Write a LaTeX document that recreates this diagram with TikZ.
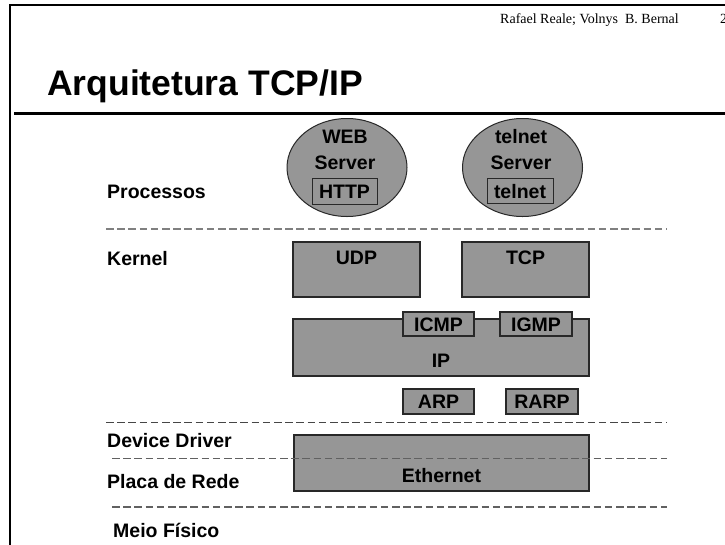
\documentclass[tikz,border=0pt]{standalone}
\usepackage{fontspec}
\setmainfont{Liberation Serif}
\newfontfamily\arialf{Liberation Sans}
\usetikzlibrary{shapes.geometric}
\definecolor{fillgray}{RGB}{150,150,150}
\definecolor{edgegray}{RGB}{40,40,40}
\definecolor{dashA}{RGB}{128,128,128}
\definecolor{dashB}{RGB}{70,70,70}
\tikzset{
  lbl/.style={font=\arialf\bfseries\fontsize{19.5}{22}\selectfont, inner sep=0pt, anchor=base west},
  ctext/.style={font=\arialf\bfseries\fontsize{19.5}{22}\selectfont, inner sep=0pt, anchor=base},
  layerbox/.style={draw=edgegray, line width=1.2pt, fill=fillgray, rectangle, inner sep=0pt},
  procell/.style={draw=edgegray, line width=1pt, fill=fillgray, ellipse, inner sep=0pt, minimum width=120pt, minimum height=98pt},
  innerbox/.style={draw=edgegray, line width=1pt, rectangle, inner sep=0pt},
  sepA/.style={draw=dashA, line width=1.8pt, dash pattern=on 7.5pt off 3.7pt},
  sepB/.style={draw=dashB, line width=1.3pt, dash pattern=on 7.5pt off 3.7pt},
}
\begin{document}
\begin{tikzpicture}[x=1pt, y=-1pt]
\clip (0,0) rectangle (725,544);
\useasboundingbox (0,0) rectangle (725,544);
\fill[white] (0,0) rectangle (725,544);
% slide frame
\draw[line width=2pt, black] (10,5) rectangle (760,580);
% header
\node[font=\fontsize{14}{16}\selectfont, inner sep=0pt, anchor=base west] (author) at (500,23) {Rafael Reale; Volnys\ \ B. Bernal};
\node[font=\fontsize{14}{16}\selectfont, inner sep=0pt, anchor=base west] (pagenum) at (720,23) {2};
\node[font=\arialf\bfseries\fontsize{35.5}{40}\selectfont, inner sep=0pt, anchor=base west] (title) at (47,95) {Arquitetura TCP/IP};
\coordinate (ruleL) at (14,113.5);
\coordinate (ruleR) at (725,113.5);
\draw[line width=3pt, black] (ruleL) -- (ruleR);

% layer labels
\node[lbl] (proc) at (107,198) {Processos};
\node[lbl] (kern) at (107,265) {Kernel};
\node[lbl] (dev) at (107,447) {Device Driver};
\node[lbl] (placa) at (107,488) {Placa de Rede};
\node[lbl] (meio) at (113,537) {Meio Físico};

% processes
\node[procell] (web) at (347,167.5) {};
\node[ctext] (webt) at (345,143) {WEB};
\node[ctext] (webs) at (345,169) {Server};
\node[innerbox, minimum width=65pt, minimum height=26pt] (http) at (344.5,191) {};
\node[ctext] (httpt) at (344.5,198) {HTTP};

\node[procell] (tel) at (522.5,167.5) {};
\node[ctext] (telt) at (521,143) {telnet};
\node[ctext] (tels) at (521,169) {Server};
\node[innerbox, minimum width=66pt, minimum height=25pt] (telbox) at (520,190.5) {};
\node[ctext] (telbt) at (520,198) {telnet};

% separator 1
\coordinate (s1a) at (106,229);
\coordinate (s1b) at (667,229);
\draw[sepA] (s1a) -- (s1b);

% transport
\node[layerbox, minimum width=127pt, minimum height=55pt] (udp) at (356.5,269.5) {};
\node[ctext] (udpt) at (356.5,264) {UDP};
\node[layerbox, minimum width=127pt, minimum height=55pt] (tcp) at (525.5,269.5) {};
\node[ctext] (tcpt) at (525.5,264) {TCP};

% IP
\node[layerbox, minimum width=296pt, minimum height=57pt] (ip) at (441,347.5) {};
\node[ctext] (ipt) at (441,367) {IP};
\node[layerbox, minimum width=71pt, minimum height=24pt] (icmp) at (438.5,324) {};
\node[ctext] (icmpt) at (438.5,331) {ICMP};
\node[layerbox, minimum width=72pt, minimum height=24pt] (igmp) at (536,324) {};
\node[ctext] (igmpt) at (536,331) {IGMP};

% ARP / RARP
\node[layerbox, minimum width=71pt, minimum height=25pt] (arp) at (438.5,401.5) {};
\node[ctext] (arpt) at (438.5,408) {ARP};
\node[layerbox, minimum width=72pt, minimum height=25pt] (rarp) at (542,401.5) {};
\node[ctext] (rarpt) at (542,408) {RARP};

% separator 2
\coordinate (s2a) at (106,422.5);
\coordinate (s2b) at (667,422.5);
\draw[sepB] (s2a) -- (s2b);

% Ethernet
\node[layerbox, minimum width=295pt, minimum height=56pt] (eth) at (441.5,463) {};
\node[ctext] (etht) at (441.5,482) {Ethernet};

% separators 3, 4
\coordinate (s3a) at (112,458.5);
\coordinate (s3b) at (667,458.5);
\draw[sepB, draw=black!62] (s3a) -- (s3b);
\coordinate (s4a) at (112,507);
\coordinate (s4b) at (667,507);
\draw[sepB, draw=black!62] (s4a) -- (s4b);
\end{tikzpicture}
\end{document}
